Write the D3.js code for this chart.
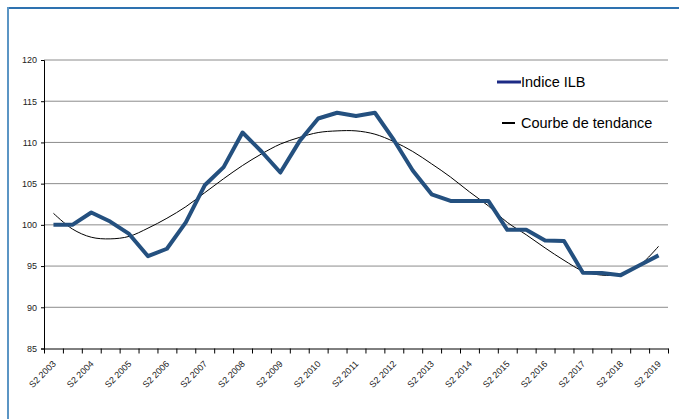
<!DOCTYPE html>
<html><head><meta charset="utf-8">
<script src="https://cdn.jsdelivr.net/npm/d3@7"></script>
<style>
html,body{margin:0;padding:0;background:#fff;}
svg{display:block;font-family:"Liberation Sans",Arial,sans-serif;}
</style></head>
<body>
<svg id="c" width="679" height="419"></svg>
<script>
const categories = ["S2 2003"];
for (let y = 2004; y <= 2019; y++) { categories.push("S1 " + y); categories.push("S2 " + y); }
const indiceILB = [100.0,100.0,101.5,100.4,98.9,96.2,97.1,100.3,104.8,107.0,111.2,108.9,106.35,110.1,112.9,113.6,113.2,113.6,110.3,106.6,103.7,102.9,102.9,102.9,99.4,99.4,98.1,98.05,94.2,94.15,93.9,95.1,96.3];
const tendance = [101.4,99.5,98.5,98.3,98.6,99.6,100.8,102.2,103.9,105.6,107.2,108.6,109.8,110.6,111.2,111.4,111.4,111.0,110.1,108.9,107.4,105.8,104.0,102.3,100.3,98.8,97.2,95.7,94.4,93.9,94.0,95.1,97.4];
const yTicks = [85,90,95,100,105,110,115,120];
const seriesNames = ["Indice ILB","Courbe de tendance"];

const svg = d3.select("#c");
const L = 44, R = 668, T = 60, B = 348.5;

// frame
svg.append("line").attr("x1",7).attr("x2",679).attr("y1",8).attr("y2",8).attr("stroke","#2e72b0").attr("stroke-width",2);
svg.append("line").attr("x1",8).attr("x2",8).attr("y1",7).attr("y2",419).attr("stroke","#5b95c4").attr("stroke-width",2);

const x = d3.scaleBand().domain(categories).range([L,R]).padding(0);
const xi = d3.scaleLinear().domain([0,categories.length]).range([L,R]);
const y = d3.scaleLinear().domain([85,120]).range([B,T]);
const cx = c => x(c) + x.bandwidth()/2;

// gridlines
svg.append("g").selectAll("line").data(yTicks.filter(v=>v>85)).join("line")
  .attr("x1",L).attr("x2",R).attr("y1",d=>y(d)).attr("y2",d=>y(d))
  .attr("stroke","#8c8c8c").attr("stroke-width",1);

// y axis
const ya = svg.append("g").attr("transform",`translate(${L},0)`)
  .call(d3.axisLeft(y).tickValues(yTicks).tickSize(3).tickPadding(4));
ya.select(".domain").attr("stroke","#000");
ya.selectAll(".tick line").attr("stroke","#000");
ya.selectAll("text").attr("font-size",9).attr("fill","#222").attr("font-family","Liberation Sans, Arial, sans-serif");

// x axis
const xa = svg.append("g").attr("transform",`translate(0,${B})`)
  .call(d3.axisBottom(xi).tickValues(d3.range(categories.length+1)).tickSize(5).tickSizeOuter(0).tickFormat(""));
xa.select(".domain").attr("stroke","#000");
xa.selectAll(".tick line").attr("stroke","#000");

svg.append("g").selectAll("text").data(categories.filter((c,i)=>i%2===0)).join("text")
  .attr("transform",d=>`translate(${cx(d)+3},${B+16}) rotate(-45)`)
  .attr("text-anchor","end").attr("font-size",9).attr("fill","#222").text(d=>d);

// trend
const line = d3.line().x((d,i)=>cx(categories[i])).y(d=>y(d));
svg.append("path").datum(tendance).attr("d",line.curve(d3.curveCatmullRom))
  .attr("fill","none").attr("stroke","#000").attr("stroke-width",1);

// series
svg.append("path").datum(indiceILB).attr("d",d3.line().x((d,i)=>cx(categories[i])).y(d=>y(d)))
  .attr("fill","none").attr("stroke","#24507f").attr("stroke-width",4).attr("stroke-linejoin","round");

// legend
const lg = svg.append("g");
lg.append("line").attr("x1",497).attr("x2",521).attr("y1",82).attr("y2",82).attr("stroke","#1c2a85").attr("stroke-width",3);
lg.append("text").attr("x",521).attr("y",87).attr("font-size",14.5).attr("fill","#000").text(seriesNames[0]);
lg.append("line").attr("x1",502).attr("x2",515).attr("y1",123).attr("y2",123).attr("stroke","#000").attr("stroke-width",2);
lg.append("text").attr("x",521).attr("y",128).attr("font-size",14.5).attr("fill","#000").text(seriesNames[1]);
</script>
</body></html>
